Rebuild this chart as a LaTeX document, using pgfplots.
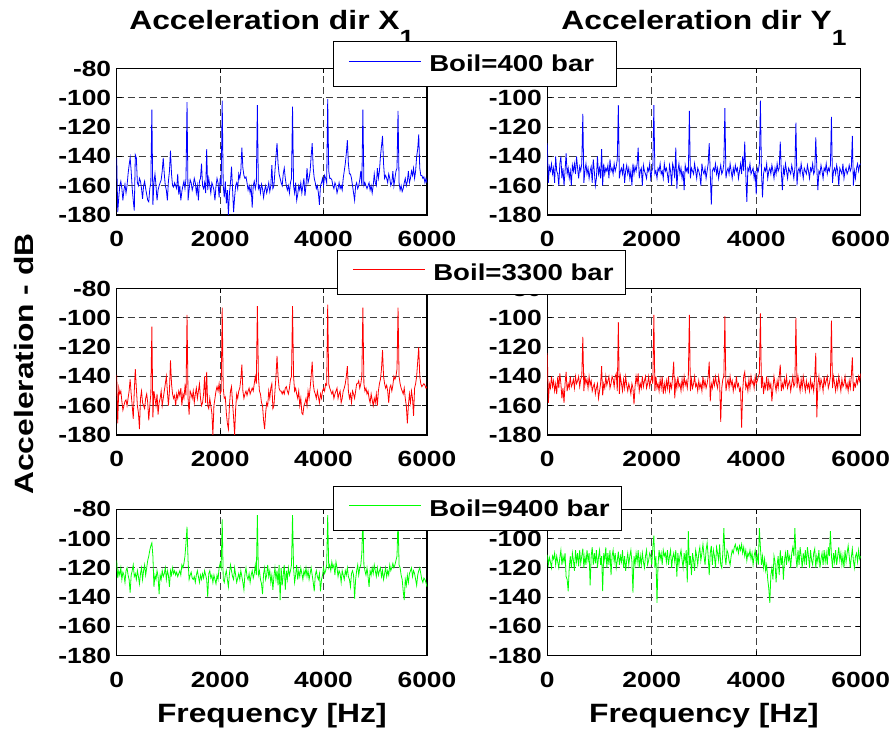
\documentclass[border=0pt]{standalone}
\usepackage{pgfplots}
\pgfplotsset{compat=1.18}
\usepackage{pgfplotstable}
\usepackage{fontspec}
\setmainfont{Liberation Sans}[FakeStretch=1.2]

% Acceleration spectra, one value every 20 Hz from 0 to 6000 Hz
% X direction, Boil=400 bar
\pgfplotstableread[header=false,row sep=\\]{
-141\\ -178\\ -168\\ -160\\ -157\\ -162\\ -170\\ -163\\ -159\\ -165\\ -160\\ -152\\ -146\\ -141\\ -150\\ -162\\ -170\\ -177\\ -139\\ -141\\ -158\\ -160\\ -155\\ -157\\ -162\\ -169\\ -160\\ -157\\ -162\\ -166\\ -170\\ -171\\ -162\\ -158\\
-108\\ -173\\ -158\\ -152\\ -160\\ -170\\ -163\\ -160\\ -158\\ -156\\ -150\\ -141\\ -152\\ -160\\ -163\\ -170\\ -157\\ -150\\ -136\\ -152\\ -160\\ -161\\ -158\\ -160\\ -162\\ -152\\ -166\\ -160\\ -170\\ -164\\ -160\\ -157\\ -162\\ -155\\
-103\\ -170\\ -163\\ -156\\ -158\\ -163\\ -160\\ -155\\ -158\\ -165\\ -160\\ -170\\ -157\\ -155\\ -145\\ -160\\ -162\\ -158\\ -165\\ -135\\ -163\\ -155\\ -160\\ -165\\ -158\\ -160\\ -163\\ -170\\ -160\\ -155\\ -158\\ -168\\ -155\\ -160\\
-102\\ -160\\ -168\\ -157\\ -172\\ -163\\ -180\\ -165\\ -158\\ -147\\ -162\\ -178\\ -168\\ -160\\ -158\\ -162\\ -152\\ -155\\ -150\\ -134\\ -148\\ -153\\ -155\\ -154\\ -158\\ -163\\ -160\\ -165\\ -161\\ -175\\ -160\\ -157\\ -162\\ -158\\
-105\\ -162\\ -160\\ -165\\ -159\\ -162\\ -168\\ -163\\ -160\\ -165\\ -162\\ -158\\ -164\\ -160\\ -146\\ -162\\ -160\\ -150\\ -140\\ -131\\ -145\\ -152\\ -155\\ -158\\ -160\\ -152\\ -148\\ -155\\ -160\\ -163\\ -160\\ -165\\ -158\\ -155\\
-106\\ -160\\ -165\\ -158\\ -170\\ -166\\ -160\\ -163\\ -158\\ -165\\ -160\\ -155\\ -167\\ -160\\ -148\\ -158\\ -155\\ -150\\ -140\\ -131\\ -148\\ -155\\ -158\\ -162\\ -160\\ -165\\ -173\\ -160\\ -158\\ -155\\ -160\\ -153\\ -155\\ -158\\
-101\\ -150\\ -155\\ -155\\ -156\\ -160\\ -162\\ -158\\ -160\\ -165\\ -162\\ -158\\ -162\\ -160\\ -163\\ -155\\ -150\\ -145\\ -138\\ -129\\ -145\\ -152\\ -152\\ -155\\ -160\\ -165\\ -170\\ -160\\ -158\\ -162\\ -160\\ -156\\ -150\\ -160\\
-108\\ -160\\ -158\\ -160\\ -162\\ -160\\ -158\\ -163\\ -160\\ -165\\ -160\\ -152\\ -158\\ -160\\ -148\\ -155\\ -150\\ -140\\ -133\\ -126\\ -145\\ -155\\ -153\\ -155\\ -158\\ -152\\ -155\\ -160\\ -158\\ -150\\ -160\\ -155\\ -150\\ -148\\
-109\\ -158\\ -163\\ -160\\ -164\\ -162\\ -158\\ -155\\ -160\\ -157\\ -150\\ -158\\ -155\\ -150\\ -153\\ -148\\ -155\\ -150\\ -140\\ -135\\ -125\\ -148\\ -153\\ -153\\ -155\\ -154\\ -158\\ -155\\ -158\\
}\xlow

% Y direction, Boil=400 bar
\pgfplotstableread[header=false,row sep=\\]{
-131\\ -158\\ -147\\ -150\\ -145\\ -152\\ -148\\ -158\\ -140\\ -150\\ -152\\ -160\\ -145\\ -140\\ -155\\ -148\\ -160\\ -150\\ -138\\ -152\\ -148\\ -155\\ -150\\ -160\\ -146\\ -150\\ -145\\ -152\\ -140\\ -148\\ -155\\ -147\\ -150\\ -145\\
-111\\ -158\\ -150\\ -145\\ -152\\ -148\\ -155\\ -150\\ -147\\ -158\\ -142\\ -150\\ -160\\ -155\\ -140\\ -152\\ -148\\ -155\\ -135\\ -160\\ -145\\ -152\\ -148\\ -150\\ -146\\ -155\\ -142\\ -150\\ -148\\ -152\\ -145\\ -150\\ -147\\ -142\\
-105\\ -155\\ -150\\ -148\\ -152\\ -145\\ -158\\ -150\\ -146\\ -152\\ -148\\ -155\\ -150\\ -160\\ -145\\ -152\\ -147\\ -150\\ -145\\ -134\\ -155\\ -150\\ -148\\ -160\\ -146\\ -150\\ -152\\ -155\\ -148\\ -150\\ -145\\ -155\\ -150\\ -148\\
-105\\ -152\\ -150\\ -155\\ -148\\ -150\\ -145\\ -152\\ -150\\ -155\\ -145\\ -150\\ -148\\ -152\\ -158\\ -146\\ -150\\ -160\\ -145\\ -148\\ -155\\ -134\\ -162\\ -150\\ -145\\ -152\\ -148\\ -155\\ -150\\ -163\\ -146\\ -150\\ -148\\ -152\\
-109\\ -155\\ -148\\ -150\\ -152\\ -145\\ -150\\ -155\\ -148\\ -150\\ -153\\ -160\\ -145\\ -150\\ -152\\ -148\\ -155\\ -150\\ -145\\ -131\\ -152\\ -173\\ -150\\ -148\\ -150\\ -145\\ -152\\ -148\\ -155\\ -150\\ -146\\ -152\\ -150\\ -145\\
-107\\ -155\\ -150\\ -148\\ -152\\ -145\\ -150\\ -155\\ -148\\ -152\\ -146\\ -150\\ -148\\ -155\\ -150\\ -145\\ -152\\ -140\\ -150\\ -130\\ -152\\ -171\\ -148\\ -150\\ -145\\ -152\\ -150\\ -148\\ -155\\ -150\\ -166\\ -148\\ -150\\ -145\\
-102\\ -150\\ -168\\ -152\\ -148\\ -150\\ -145\\ -155\\ -150\\ -148\\ -152\\ -146\\ -150\\ -155\\ -148\\ -152\\ -145\\ -150\\ -148\\ -130\\ -150\\ -163\\ -148\\ -152\\ -145\\ -150\\ -155\\ -148\\ -150\\ -152\\ -146\\ -150\\ -155\\ -148\\
-117\\ -160\\ -150\\ -148\\ -152\\ -145\\ -150\\ -155\\ -148\\ -150\\ -152\\ -146\\ -150\\ -155\\ -148\\ -150\\ -145\\ -152\\ -150\\ -127\\ -148\\ -163\\ -150\\ -152\\ -146\\ -150\\ -155\\ -148\\ -150\\ -145\\ -152\\ -148\\ -150\\ -146\\
-113\\ -158\\ -150\\ -148\\ -152\\ -146\\ -150\\ -160\\ -148\\ -150\\ -152\\ -145\\ -155\\ -150\\ -148\\ -152\\ -150\\ -146\\ -150\\ -148\\ -126\\ -160\\ -150\\ -155\\ -148\\ -145\\ -150\\ -146\\ -145\\
}\ylow

% X direction, Boil=3300 bar
\pgfplotstableread[header=false,row sep=\\]{
-139\\ -172\\ -148\\ -152\\ -150\\ -157\\ -163\\ -160\\ -157\\ -156\\ -160\\ -155\\ -150\\ -142\\ -152\\ -160\\ -169\\ -150\\ -135\\ -148\\ -160\\ -165\\ -176\\ -155\\ -150\\ -158\\ -160\\ -162\\ -155\\ -152\\ -158\\ -170\\ -160\\ -152\\
-106\\ -168\\ -150\\ -155\\ -160\\ -152\\ -166\\ -158\\ -155\\ -150\\ -160\\ -155\\ -150\\ -145\\ -140\\ -150\\ -160\\ -150\\ -129\\ -145\\ -152\\ -155\\ -153\\ -160\\ -152\\ -155\\ -150\\ -153\\ -148\\ -160\\ -152\\ -155\\ -147\\ -153\\
-98\\ -155\\ -166\\ -150\\ -152\\ -155\\ -150\\ -158\\ -152\\ -148\\ -155\\ -150\\ -145\\ -155\\ -160\\ -158\\ -152\\ -140\\ -158\\ -137\\ -160\\ -162\\ -155\\ -160\\ -165\\ -180\\ -160\\ -155\\ -150\\ -147\\ -150\\ -145\\ -152\\ -150\\
-93\\ -148\\ -155\\ -154\\ -165\\ -172\\ -176\\ -160\\ -150\\ -147\\ -158\\ -168\\ -180\\ -162\\ -152\\ -155\\ -150\\ -148\\ -142\\ -132\\ -150\\ -155\\ -152\\ -150\\ -153\\ -150\\ -148\\ -152\\ -150\\ -148\\ -150\\ -145\\ -140\\ -145\\
-92\\ -140\\ -150\\ -152\\ -158\\ -160\\ -170\\ -176\\ -165\\ -158\\ -160\\ -150\\ -155\\ -148\\ -145\\ -162\\ -160\\ -150\\ -140\\ -126\\ -140\\ -148\\ -150\\ -150\\ -152\\ -150\\ -152\\ -148\\ -147\\ -150\\ -152\\ -148\\ -142\\ -140\\
-92\\ -140\\ -150\\ -148\\ -152\\ -155\\ -150\\ -160\\ -155\\ -165\\ -166\\ -160\\ -158\\ -155\\ -160\\ -150\\ -155\\ -148\\ -140\\ -130\\ -145\\ -150\\ -152\\ -155\\ -150\\ -154\\ -158\\ -152\\ -155\\ -150\\ -148\\ -150\\ -145\\ -146\\
-91\\ -145\\ -148\\ -150\\ -152\\ -150\\ -155\\ -152\\ -150\\ -148\\ -155\\ -152\\ -150\\ -158\\ -155\\ -150\\ -148\\ -145\\ -140\\ -133\\ -150\\ -155\\ -152\\ -158\\ -150\\ -152\\ -155\\ -150\\ -145\\ -145\\ -143\\ -148\\ -145\\ -140\\
-93\\ -145\\ -150\\ -148\\ -152\\ -150\\ -155\\ -158\\ -152\\ -156\\ -160\\ -155\\ -158\\ -152\\ -160\\ -150\\ -145\\ -142\\ -135\\ -122\\ -140\\ -145\\ -148\\ -146\\ -150\\ -158\\ -148\\ -146\\ -150\\ -146\\ -140\\ -142\\ -140\\ -135\\
-93\\ -140\\ -145\\ -148\\ -150\\ -152\\ -148\\ -155\\ -160\\ -172\\ -160\\ -152\\ -158\\ -150\\ -155\\ -167\\ -148\\ -145\\ -140\\ -130\\ -120\\ -140\\ -145\\ -147\\ -146\\ -145\\ -146\\ -148\\ -147\\
}\xmid

% Y direction, Boil=3300 bar
\pgfplotstableread[header=false,row sep=\\]{
-124\\ -158\\ -145\\ -148\\ -140\\ -147\\ -143\\ -150\\ -145\\ -152\\ -140\\ -148\\ -138\\ -145\\ -155\\ -148\\ -158\\ -145\\ -137\\ -150\\ -145\\ -148\\ -140\\ -147\\ -145\\ -142\\ -148\\ -140\\ -145\\ -143\\ -140\\ -147\\ -142\\ -140\\
-113\\ -150\\ -140\\ -145\\ -142\\ -148\\ -140\\ -146\\ -143\\ -150\\ -147\\ -145\\ -152\\ -148\\ -145\\ -155\\ -150\\ -145\\ -133\\ -153\\ -145\\ -148\\ -140\\ -146\\ -143\\ -140\\ -148\\ -145\\ -140\\ -142\\ -147\\ -140\\ -138\\ -150\\
-103\\ -152\\ -140\\ -145\\ -150\\ -142\\ -148\\ -140\\ -146\\ -150\\ -145\\ -148\\ -152\\ -145\\ -148\\ -159\\ -147\\ -140\\ -145\\ -138\\ -150\\ -145\\ -148\\ -140\\ -147\\ -143\\ -140\\ -148\\ -145\\ -140\\ -147\\ -143\\ -140\\ -145\\
-98\\ -150\\ -140\\ -148\\ -145\\ -150\\ -142\\ -148\\ -140\\ -152\\ -145\\ -150\\ -143\\ -148\\ -140\\ -150\\ -145\\ -148\\ -140\\ -130\\ -155\\ -143\\ -148\\ -140\\ -147\\ -145\\ -150\\ -142\\ -148\\ -140\\ -146\\ -143\\ -148\\ -140\\
-98\\ -150\\ -142\\ -148\\ -145\\ -140\\ -147\\ -145\\ -150\\ -143\\ -148\\ -145\\ -150\\ -140\\ -147\\ -143\\ -148\\ -145\\ -140\\ -130\\ -157\\ -145\\ -148\\ -142\\ -146\\ -140\\ -145\\ -148\\ -140\\ -145\\ -171\\ -148\\ -142\\ -140\\
-99\\ -150\\ -145\\ -142\\ -148\\ -140\\ -146\\ -143\\ -150\\ -145\\ -148\\ -140\\ -147\\ -145\\ -150\\ -148\\ -175\\ -150\\ -140\\ -137\\ -148\\ -145\\ -150\\ -142\\ -148\\ -140\\ -145\\ -143\\ -148\\ -140\\ -145\\ -143\\ -140\\ -138\\
-97\\ -148\\ -140\\ -152\\ -145\\ -148\\ -140\\ -150\\ -143\\ -148\\ -145\\ -157\\ -148\\ -140\\ -145\\ -150\\ -143\\ -148\\ -140\\ -132\\ -150\\ -145\\ -148\\ -142\\ -146\\ -140\\ -148\\ -145\\ -143\\ -150\\ -145\\ -140\\ -147\\ -145\\
-100\\ -148\\ -140\\ -145\\ -150\\ -142\\ -148\\ -140\\ -145\\ -150\\ -143\\ -148\\ -145\\ -150\\ -142\\ -148\\ -145\\ -150\\ -140\\ -124\\ -168\\ -145\\ -140\\ -148\\ -142\\ -145\\ -150\\ -140\\ -146\\ -143\\ -140\\ -148\\ -145\\ -140\\
-102\\ -148\\ -140\\ -145\\ -150\\ -143\\ -148\\ -140\\ -145\\ -150\\ -142\\ -147\\ -145\\ -140\\ -148\\ -145\\ -150\\ -143\\ -148\\ -140\\ -127\\ -150\\ -145\\ -147\\ -142\\ -145\\ -140\\ -143\\ -138\\
}\ymid

% X direction, Boil=9400 bar
\pgfplotstableread[header=false,row sep=\\]{
-115\\ -127\\ -122\\ -125\\ -120\\ -128\\ -123\\ -125\\ -130\\ -122\\ -120\\ -125\\ -128\\ -137\\ -125\\ -122\\ -118\\ -126\\ -124\\ -128\\ -122\\ -126\\ -131\\ -124\\ -120\\ -128\\ -122\\ -118\\ -125\\ -120\\ -115\\ -112\\ -108\\ -105\\
-103\\ -112\\ -133\\ -125\\ -128\\ -122\\ -126\\ -138\\ -125\\ -128\\ -122\\ -126\\ -124\\ -120\\ -128\\ -122\\ -125\\ -133\\ -122\\ -125\\ -120\\ -124\\ -122\\ -125\\ -123\\ -126\\ -124\\ -122\\ -125\\ -118\\ -120\\ -117\\ -112\\ -103\\
-92\\ -115\\ -128\\ -125\\ -123\\ -127\\ -128\\ -126\\ -130\\ -125\\ -122\\ -126\\ -130\\ -125\\ -128\\ -124\\ -127\\ -122\\ -125\\ -128\\ -140\\ -124\\ -122\\ -127\\ -125\\ -130\\ -125\\ -128\\ -131\\ -125\\ -128\\ -120\\ -117\\ -120\\
-87\\ -128\\ -130\\ -125\\ -122\\ -128\\ -133\\ -124\\ -118\\ -122\\ -126\\ -128\\ -120\\ -125\\ -130\\ -127\\ -124\\ -128\\ -122\\ -126\\ -130\\ -135\\ -124\\ -120\\ -126\\ -128\\ -124\\ -130\\ -125\\ -122\\ -127\\ -124\\ -118\\ -125\\
-84\\ -125\\ -122\\ -128\\ -131\\ -138\\ -124\\ -120\\ -128\\ -125\\ -118\\ -126\\ -122\\ -130\\ -125\\ -135\\ -126\\ -120\\ -128\\ -122\\ -132\\ -118\\ -142\\ -120\\ -132\\ -125\\ -118\\ -135\\ -122\\ -128\\ -120\\ -125\\ -122\\ -118\\
-84\\ -120\\ -130\\ -125\\ -118\\ -128\\ -122\\ -126\\ -120\\ -124\\ -128\\ -122\\ -125\\ -120\\ -126\\ -122\\ -128\\ -124\\ -120\\ -125\\ -130\\ -136\\ -125\\ -122\\ -126\\ -128\\ -124\\ -136\\ -128\\ -125\\ -120\\ -124\\ -122\\ -118\\
-84\\ -120\\ -118\\ -122\\ -116\\ -120\\ -118\\ -125\\ -116\\ -120\\ -126\\ -122\\ -124\\ -130\\ -122\\ -125\\ -128\\ -122\\ -125\\ -120\\ -126\\ -128\\ -133\\ -124\\ -122\\ -125\\ -141\\ -128\\ -122\\ -118\\ -125\\ -120\\ -118\\ -110\\
-85\\ -118\\ -122\\ -125\\ -120\\ -126\\ -133\\ -122\\ -125\\ -120\\ -124\\ -118\\ -122\\ -126\\ -120\\ -125\\ -122\\ -120\\ -126\\ -122\\ -128\\ -124\\ -120\\ -126\\ -122\\ -125\\ -118\\ -122\\ -120\\ -117\\ -120\\ -118\\ -115\\ -112\\
-86\\ -118\\ -120\\ -125\\ -128\\ -136\\ -142\\ -128\\ -132\\ -125\\ -130\\ -124\\ -122\\ -120\\ -126\\ -122\\ -124\\ -128\\ -132\\ -125\\ -122\\ -120\\ -124\\ -128\\ -130\\ -127\\ -128\\ -130\\ -133\\
}\xhigh

% Y direction, Boil=9400 bar
\pgfplotstableread[header=false,row sep=\\]{
-111\\ -118\\ -113\\ -116\\ -120\\ -112\\ -114\\ -110\\ -118\\ -112\\ -116\\ -120\\ -113\\ -108\\ -118\\ -112\\ -116\\ -110\\ -126\\ -128\\ -136\\ -120\\ -112\\ -120\\ -110\\ -115\\ -122\\ -108\\ -116\\ -110\\ -119\\ -108\\ -117\\ -112\\
-107\\ -120\\ -112\\ -118\\ -108\\ -115\\ -110\\ -132\\ -112\\ -106\\ -118\\ -110\\ -117\\ -108\\ -120\\ -113\\ -108\\ -118\\ -112\\ -136\\ -110\\ -115\\ -106\\ -120\\ -110\\ -118\\ -108\\ -125\\ -112\\ -108\\ -116\\ -110\\ -120\\ -115\\
-109\\ -118\\ -112\\ -116\\ -108\\ -120\\ -112\\ -122\\ -115\\ -110\\ -118\\ -112\\ -108\\ -116\\ -137\\ -112\\ -118\\ -110\\ -116\\ -108\\ -120\\ -112\\ -118\\ -110\\ -116\\ -120\\ -112\\ -108\\ -118\\ -115\\ -110\\ -112\\ -118\\ -106\\
-98\\ -120\\ -112\\ -144\\ -118\\ -108\\ -114\\ -110\\ -118\\ -108\\ -112\\ -110\\ -116\\ -108\\ -118\\ -112\\ -108\\ -120\\ -113\\ -110\\ -116\\ -108\\ -126\\ -110\\ -118\\ -112\\ -108\\ -115\\ -120\\ -110\\ -116\\ -108\\ -130\\ -95\\
-118\\ -112\\ -125\\ -110\\ -115\\ -122\\ -108\\ -112\\ -118\\ -110\\ -106\\ -115\\ -110\\ -104\\ -112\\ -118\\ -108\\ -103\\ -112\\ -125\\ -110\\ -105\\ -118\\ -108\\ -112\\ -120\\ -106\\ -110\\ -115\\ -104\\ -118\\ -120\\ -110\\ -93\\
-112\\ -118\\ -108\\ -110\\ -115\\ -118\\ -112\\ -108\\ -110\\ -106\\ -104\\ -108\\ -106\\ -110\\ -105\\ -108\\ -104\\ -110\\ -106\\ -112\\ -108\\ -115\\ -110\\ -112\\ -108\\ -114\\ -110\\ -118\\ -112\\ -108\\ -116\\ -112\\ -118\\ -93\\
-106\\ -118\\ -112\\ -120\\ -114\\ -122\\ -118\\ -128\\ -134\\ -144\\ -125\\ -120\\ -128\\ -112\\ -116\\ -130\\ -118\\ -112\\ -125\\ -108\\ -118\\ -112\\ -128\\ -115\\ -110\\ -118\\ -108\\ -115\\ -112\\ -120\\ -110\\ -106\\ -112\\ -93\\
-112\\ -120\\ -108\\ -118\\ -106\\ -112\\ -120\\ -110\\ -116\\ -108\\ -118\\ -106\\ -112\\ -120\\ -108\\ -115\\ -118\\ -110\\ -107\\ -120\\ -112\\ -116\\ -108\\ -120\\ -114\\ -110\\ -118\\ -108\\ -116\\ -110\\ -118\\ -106\\ -112\\ -95\\
-112\\ -120\\ -110\\ -116\\ -108\\ -118\\ -112\\ -106\\ -115\\ -110\\ -118\\ -112\\ -120\\ -108\\ -116\\ -110\\ -105\\ -112\\ -120\\ -113\\ -107\\ -115\\ -120\\ -112\\ -110\\ -116\\ -108\\ -114\\ -112\\
}\yhigh

\pgfplotsset{
  spec/.style={
    scale only axis, height=146.5pt,
    xmin=0, xmax=6000, ymin=-180, ymax=-80,
    xtick={0,2000,4000,6000}, xticklabels={0,2000,4000,6000},
    ytick={-180,-160,-140,-120,-100,-80},
    yticklabels={-180,-160,-140,-120,-100,-80},
    grid=major,
    major grid style={black!75, line width=0.8pt, dash pattern=on 7pt off 4pt},
    axis line style={line width=1.1pt},
    tick align=inside, major tick length=5pt,
    tick style={black, line width=0.9pt},
    ticklabel style={font=\fontsize{22}{22}\selectfont\bfseries},
    yticklabel style={xshift=-2pt},
    xticklabel style={yshift=-13pt},
    title style={at={(0.5,1)}, anchor=base, yshift=33pt,
      font=\fontsize{26.5}{26.5}\selectfont\bfseries},
    xlabel style={at={(0.5,0)}, anchor=base, yshift=-67pt,
      font=\fontsize{26.5}{26.5}\selectfont\bfseries},
    legend style={draw=black, line width=1pt, fill=white,
      font=\fontsize{23}{23}\selectfont\bfseries,
      inner xsep=15pt, inner ysep=13pt, column sep=8pt,
      nodes={inner sep=0pt}, anchor=north west},
    legend image code/.code={\draw[#1] (0pt,3pt) -- (72pt,3pt);},
  },
  left/.style={spec, width=310.3pt},
  right/.style={spec, width=313.4pt},
  % the -80 label of these panels sits under the legend box
  hidetop/.style={yticklabels={-180,-160,-140,-120,-100,{}}},
  curve/.style={line width=0.8pt},
}

\newcommand{\subone}{\raisebox{-16pt}{\fontsize{22}{22}\selectfont 1}}

\begin{document}
\begin{tikzpicture}[x=1pt,y=1pt]
\path[fill=white] (0,0) rectangle (895,735);
\useasboundingbox (0,0) rectangle (895,735);

% right column first, so that the legends of the left column lie on top
\begin{axis}[right, hidetop, at={(547.3pt,520pt)}, anchor=south west,
  title={Acceleration dir Y\subone}]
  \addplot[blue, curve] table[x expr=\coordindex*20, y index=0] {\ylow};
\end{axis}
\begin{axis}[right, at={(547.3pt,300pt)}, anchor=south west]
  \addplot[red, curve] table[x expr=\coordindex*20, y index=0] {\ymid};
\end{axis}
\begin{axis}[right, hidetop, at={(547.3pt,79.3pt)}, anchor=south west,
  xlabel={Frequency [Hz]}]
  \addplot[green, curve] table[x expr=\coordindex*20, y index=0] {\yhigh};
\end{axis}

\begin{axis}[left, at={(116.7pt,520pt)}, anchor=south west,
  title={Acceleration dir X\subone},
  legend style={at={(0.697,1.185)}}]
  \addplot[blue, curve] table[x expr=\coordindex*20, y index=0] {\xlow};
  \addlegendentry{Boil=400 bar\hspace*{7pt}}
\end{axis}
\begin{axis}[left, at={(116.7pt,300pt)}, anchor=south west,
  legend style={at={(0.71,1.263)}}]
  \addplot[red, curve] table[x expr=\coordindex*20, y index=0] {\xmid};
  \addlegendentry{Boil=3300 bar\hspace*{-3pt}}
\end{axis}
\begin{axis}[left, at={(116.7pt,79.3pt)}, anchor=south west,
  xlabel={Frequency [Hz]},
  legend style={at={(0.697,1.158)}}]
  \addplot[green, curve] table[x expr=\coordindex*20, y index=0] {\xhigh};
  \addlegendentry{Boil=9400 bar\hspace*{-3pt}}
\end{axis}

\node[rotate=90, anchor=base, font=\fontsize{26.5}{26.5}\selectfont\bfseries]
  at (33,371) {Acceleration - dB};
\end{tikzpicture}
\end{document}
